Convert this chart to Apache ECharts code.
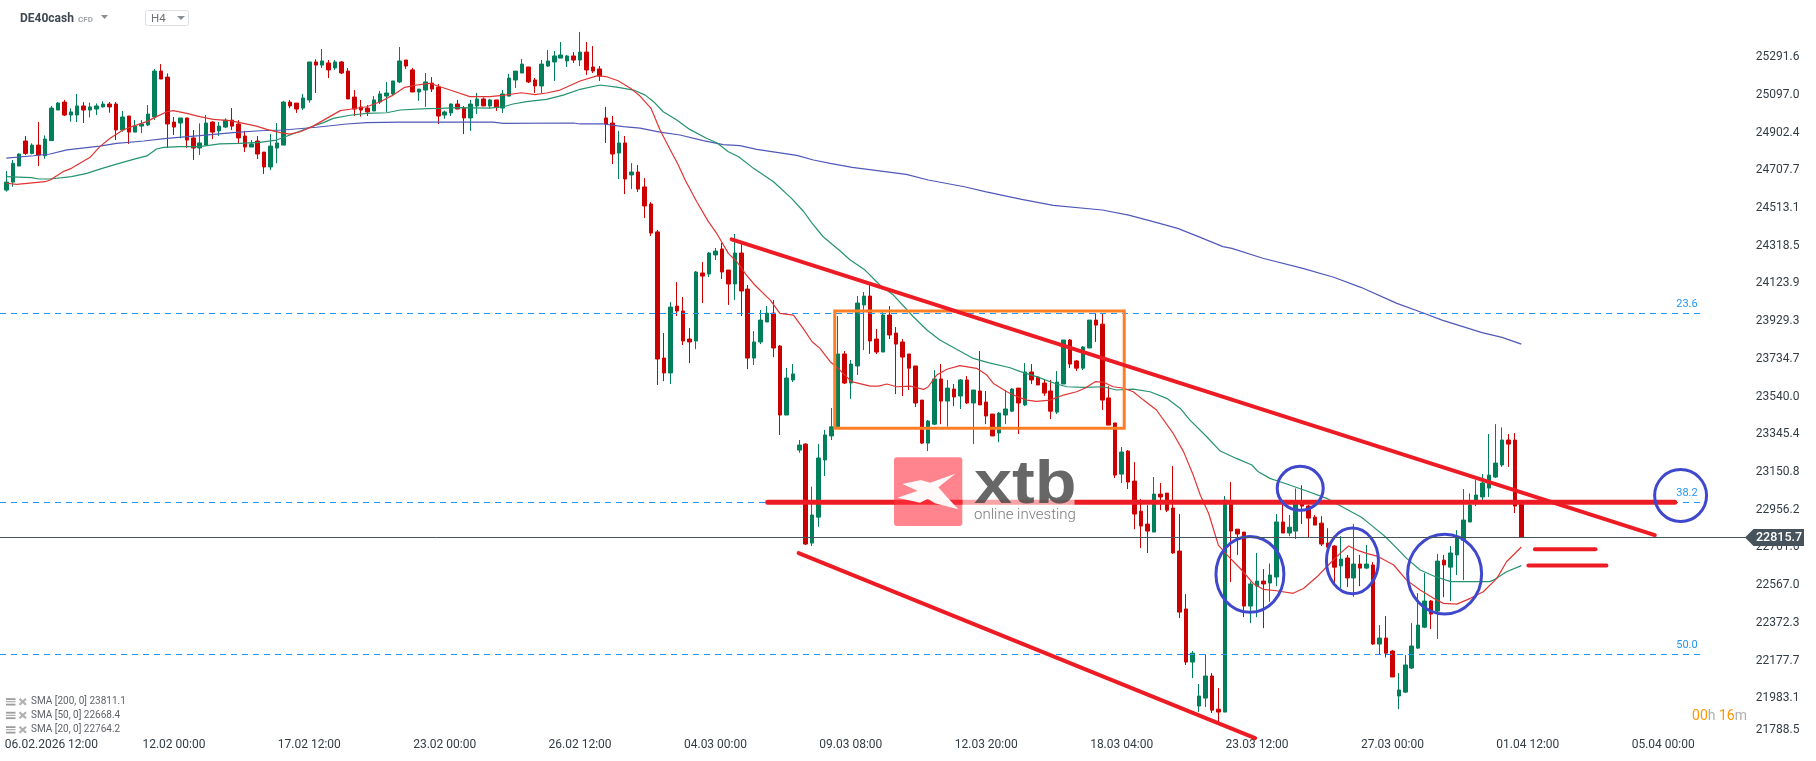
<!DOCTYPE html>
<html>
<head>
<meta charset="utf-8">
<style>html,body{margin:0;padding:0;background:#fff}#c{width:1816px;height:761px}</style>
<script src="https://cdn.jsdelivr.net/npm/echarts@6/dist/echarts.min.js"></script>
</head>
<body>
<div id="c"></div>
<script>
// [open, close, low, high] of each H4 candle
const candles = [
[24606,24647,24598,24704],[24647,24744,24623,24761],[24730,24792,24730,24795],[24859,24795,24787,24885],[24795,24838,24790,24847],
[24838,24787,24730,24957],[24783,24869,24768,24888],[24861,25029,24861,25040],[25019,25055,25019,25060],[25060,24993,24988,25071],
[24993,25009,24959,25028],[24993,25040,24957,25102],[25040,25019,24952,25060],[25019,25035,24981,25057],[25024,25040,24993,25053],
[25035,25050,25031,25064],[25050,25035,25005,25060],[25050,24916,24864,25060],[24916,24983,24907,25014],[24988,24905,24844,24988],
[24905,24936,24905,24967],[24936,24947,24900,24967],[24942,24998,24936,25045],[24983,25220,24967,25231],[25220,25179,25179,25256],
[25189,24947,24823,25208],[24957,24931,24890,24983],[24952,24978,24873,24978],[24978,24864,24823,24978],[24875,24823,24761,24916],
[24823,24849,24787,24950],[24838,24952,24838,24993],[24957,24905,24869,24962],[24911,24936,24885,24957],[24931,24967,24926,24976],
[24967,24936,24916,25029],[24947,24875,24847,24967],[24885,24828,24802,24911],[24828,24844,24828,24864],[24859,24792,24766,24885],
[24802,24725,24689,24802],[24725,24833,24709,24895],[24823,24849,24744,24952],[24838,25060,24838,25066],[25060,25040,25028,25071],
[25055,25024,25004,25055],[25029,25081,25019,25102],[25071,25267,25057,25267],[25267,25251,25107,25281],[25251,25272,25236,25334],
[25262,25226,25184,25277],[25236,25267,25226,25277],[25267,25210,25205,25272],[25220,25076,25076,25236],[25086,25024,24988,25122],
[25035,25019,24985,25071],[25029,25009,24988,25045],[25014,25071,25014,25091],[25060,25102,25050,25117],[25091,25107,25009,25164],
[25102,25169,25096,25169],[25164,25272,25158,25344],[25277,25246,25231,25277],[25226,25112,25112,25236],[25112,25127,25066,25127],
[25122,25164,25035,25210],[25158,25127,25112,25189],[25138,24988,24947,25153],[24993,25009,24974,25016],[25004,25050,24988,25053],
[25050,25024,25024,25071],[25029,24978,24895,25040],[24978,25050,24911,25071],[25040,25076,24998,25107],[25076,25040,25040,25084],
[25040,25071,25028,25076],[25071,25033,25014,25071],[25029,25102,25004,25122],[25091,25184,25088,25205],[25174,25220,25133,25220],
[25210,25256,25210,25282],[25241,25164,25158,25241],[25174,25143,25107,25184],[25143,25256,25107,25277],[25246,25272,25241,25329],
[25267,25298,25169,25324],[25287,25303,25287,25370],[25272,25298,25241,25303],[25298,25277,25262,25318],[25277,25318,25246,25422],
[25318,25226,25200,25370],[25241,25220,25210,25349],[25231,25195,25169,25246],[24978,24947,24849,25035],[24952,24792,24740,24988],
[24797,24849,24663,24911],[24849,24663,24585,24885],[24684,24699,24611,24745],[24699,24611,24596,24735],[24622,24524,24462,24668],
[24534,24384,24369,24544],[24390,23734,23600,24400],[23739,23662,23620,23868],[23662,24002,23605,24028],[24007,23982,23956,24131],
[23982,23827,23806,24054],[23837,23822,23713,23894],[23827,24183,23785,24188],[24178,24162,24023,24235],[24173,24281,24157,24286],
[24271,24291,24245,24307],[24302,24183,24147,24333],[24193,24121,24013,24193],[24121,24281,24038,24379],[24281,24085,23956,24327],
[24095,23739,23682,24116],[23739,23822,23703,23878],[23822,23935,23811,23987],[23925,23971,23925,24007],[23971,23791,23744,24038],
[23801,23445,23342,23806],[23445,23636,23445,23688],[23626,23657,23615,23708],[23264,23290,23250,23316],[23295,22779,22774,23299],
[22784,22929,22769,23075],[22918,23223,22868,23295],[23213,23342,23130,23368],[23337,23384,23316,23481],[23385,23760,23385,23956],
[23760,23610,23605,23775],[23610,23708,23528,23729],[23698,24023,23651,24059],[24013,24059,23780,24080],[24059,23827,23760,24121],
[23837,23770,23760,23889],[23770,23961,23770,23976],[23961,23858,23837,24007],[23868,23811,23553,23899],[23822,23744,23543,23837],
[23760,23687,23574,23760],[23698,23507,23486,23698],[23522,23300,23295,23522],[23300,23414,23259,23419],[23398,23631,23393,23677],
[23631,23517,23398,23708],[23517,23584,23385,23626],[23579,23538,23491,23605],[23543,23626,23476,23631],[23626,23507,23502,23646],
[23507,23574,23295,23574],[23569,23497,23497,23775],[23512,23440,23398,23569],[23450,23337,23337,23450],[23352,23455,23305,23460],
[23445,23476,23398,23574],[23465,23579,23460,23584],[23584,23507,23347,23584],[23497,23667,23491,23713],[23667,23626,23605,23708],
[23641,23600,23600,23646],[23610,23558,23543,23626],[23569,23465,23424,23626],[23460,23615,23450,23672],[23605,23832,23605,23832],
[23832,23708,23687,23837],[23724,23687,23672,23729],[23687,23796,23677,23801],[23791,23935,23791,23935],[23935,23909,23822,23970],
[23914,23522,23471,23966],[23533,23393,23393,23594],[23404,23135,23120,23404],[23140,23254,23094,23280],[23259,23099,23063,23264],
[23104,22934,22856,23202],[22949,22872,22758,23011],[22882,22846,22733,22980],[22841,23037,22841,23125],[23037,23022,22954,23094],
[23042,22954,22944,23042],[22965,22733,22728,23182],[22743,22428,22397,22934],[22444,22170,22155,22521],[22170,22216,22087,22227],
[21943,21995,21912,22057],[21984,22098,21938,22210],[22098,21922,21907,22113],[21927,21912,21860,22036],[21912,23006,21912,23027],
[22985,22846,22583,23099],[22856,22831,22723,22856],[22841,22459,22402,22841],[22459,22573,22371,22586],[22562,22588,22402,22733],
[22588,22573,22345,22650],[22578,22619,22481,22679],[22609,22893,22562,22934],[22893,22836,22836,22988],[22836,22866,22820,22929],
[22846,22989,22805,23066],[22989,22975,22882,23083],[22975,22913,22815,22980],[22918,22877,22877,22929],[22887,22779,22769,22923],
[22784,22763,22763,22861],[22769,22660,22573,22774],[22666,22702,22552,22820],[22707,22604,22557,22723],[22604,22676,22507,22882],
[22676,22655,22562,22723],[22655,22676,22650,22774],[22671,22263,22258,22686],[22263,22294,22210,22361],[22294,22216,22194,22407],
[22227,22093,22093,22232],[21995,22026,21927,22113],[22015,22155,22010,22206],[22139,22253,22134,22371],[22242,22361,22237,22526],
[22350,22485,22345,22629],[22485,22418,22340,22490],[22433,22691,22289,22728],[22696,22671,22505,22723],[22660,22733,22485,22769],
[22723,22810,22619,22851],[22799,22903,22593,23063],[22893,22980,22893,23040],[22989,23032,22975,23109],[23022,23094,23000,23140],
[23068,23135,23022,23347],[23125,23197,23120,23398],[23187,23316,23177,23381],[23316,23295,23177,23347],[23316,22975,22939,23352],
[22985,22815.7,22815.7,22985]
];

// moving averages as [candle position, price]
const sma20 = [[0,24641],[1.6,24635],[6,24649],[6.8,24658],[8.8,24701],[10.1,24718],[13,24775],[14.5,24830],[16.1,24873],[18.1,24916],[19.7,24936],[21.8,24959],[23.3,24985],[24.9,25010],[25.9,25016],[28,25002],[30,24985],[32.1,24971],[34.7,24964],[36.8,24950],[38.8,24936],[40.4,24919],[42.5,24902],[44,24895],[45.6,24907],[47.6,24936],[49.7,24976],[51.8,25016],[53.3,25023],[55.9,25036],[58,25062],[60,25096],[61.8,25136],[63.7,25148],[65.7,25157],[67.3,25139],[69.3,25117],[71.9,25088],[75,25088],[77,25095],[79.9,25108],[82,25098],[83.8,25107],[85.9,25122],[89,25169],[91.6,25195],[93.1,25191],[94.9,25170],[97,25127],[98.3,25091],[100,25028],[101.4,24916],[103,24813],[104.1,24744],[105.3,24658],[107.1,24546],[108.9,24443],[110.2,24382],[112,24279],[113.3,24236],[114.8,24167],[116.1,24116],[118.5,24038],[120,23970],[122.1,23961],[123.4,23901],[125,23823],[126.2,23789],[127.8,23720],[129.3,23677],[131.1,23617],[134,23594],[135.3,23594],[136.6,23605],[138.1,23591],[140.2,23594],[142.3,23577],[143,23591],[144.3,23651],[145.9,23681],[147.9,23700],[150.5,23686],[152.1,23651],[153.1,23608],[155.2,23565],[156.2,23548],[158.3,23522],[159.8,23515],[161.9,23522],[164,23548],[166,23565],[167.3,23583],[168.9,23617],[170.2,23614],[171.7,23591],[173.3,23583],[174.8,23565],[176.4,23522],[178.4,23471],[181,23350],[182.6,23256],[184.1,23135],[185.2,23032],[186.5,22937],[188,22774],[189.6,22714],[191.4,22653],[193.4,22576],[195,22545],[197,22538],[199.6,22525],[201.2,22550],[203.3,22610],[204.8,22662],[206.9,22731],[208.2,22769],[209.5,22748],[211,22731],[212.6,22717],[215.2,22671],[217.2,22593],[219.3,22542],[221.4,22499],[222.9,22473],[225,22469],[227.1,22499],[229.1,22533],[231.2,22602],[232.7,22688],[235,22764]];
const sma50 = [[0,24675],[3.9,24670],[5,24663],[6.8,24663],[10.1,24675],[12.5,24692],[14.5,24714],[17.1,24740],[19.7,24764],[21.8,24782],[23.3,24818],[24.4,24826],[26.9,24830],[30,24830],[33.1,24844],[36.2,24847],[39.3,24852],[41.9,24864],[44,24890],[47.1,24930],[49.2,24954],[50.7,24976],[53.3,24992],[55.9,25002],[59,25005],[61.1,25019],[65.2,25026],[67.3,25028],[69.9,25031],[75,25029],[77.1,25036],[78.6,25050],[80.7,25062],[83.8,25074],[86.4,25096],[89,25126],[92.1,25148],[94.9,25136],[97.3,25122],[99.1,25096],[100.4,25062],[101.9,25010],[104,24967],[106,24919],[108.6,24873],[110.2,24850],[112,24804],[113.6,24778],[115.9,24718],[119,24649],[121.8,24563],[123.7,24494],[125,24434],[126.7,24365],[129.3,24293],[130.9,24245],[133.2,24193],[135.5,24116],[137.6,24064],[140.7,23952],[142.8,23884],[144.8,23832],[147.4,23784],[150,23737],[152.3,23715],[155.7,23689],[157.3,23669],[159.8,23643],[162.9,23605],[164.5,23591],[167.1,23588],[170.2,23591],[172.2,23574],[174.8,23579],[177.4,23565],[180,23531],[182.1,23479],[183.6,23419],[186.2,23333],[188.3,23259],[190.8,23221],[193.2,23187],[194.2,23152],[196,23118],[198.6,23089],[201.7,23053],[204.8,23015],[207.4,22968],[210.2,22917],[212,22869],[213.9,22817],[215.7,22757],[217.2,22705],[219.3,22645],[221.4,22614],[224,22585],[230.1,22585],[230.9,22597],[232.7,22636],[235,22668]];
const sma200 = [[0,24771],[4.2,24783],[6.8,24792],[9.4,24813],[14.5,24833],[17.1,24847],[21.3,24859],[24.9,24873],[30,24887],[35.2,24902],[39.3,24912],[43,24916],[48.1,24930],[52.8,24947],[55.9,24954],[61.1,24957],[67.3,24957],[75.5,24957],[77.1,24950],[88,24952],[89,24947],[92.6,24947],[95.7,24933],[98.3,24926],[101.4,24905],[104.5,24890],[108.1,24861],[111.2,24840],[113.8,24835],[116.4,24816],[122.6,24785],[125.2,24761],[127.8,24744],[131.2,24723],[139.6,24687],[143,24658],[148.6,24623],[152,24597],[157.5,24558],[162.4,24527],[170,24503],[174.1,24477],[177.6,24446],[181.7,24408],[185.2,24362],[188.7,24314],[190.1,24305],[194.9,24254],[201.1,24202],[205.9,24156],[210.1,24104],[215.7,24021],[219.9,23970],[222.7,23935],[228.9,23870],[232,23846],[235,23811]];

// y axis tick labels and last price
const priceTicks = [21788.5,21983.1,22177.7,22372.3,22567.0,22761.6,22956.2,23150.8,23345.4,23540.0,23734.7,23929.3,24123.9,24318.5,24513.1,24707.7,24902.4,25097.0,25291.6];
const lastPrice = 22815.7;

// time axis labels by candle position
const timeTicks = [[7,'06.02.2026 12:00'],[26,'12.02 00:00'],[47,'17.02 12:00'],[68,'23.02 00:00'],[89,'26.02 12:00'],[110,'04.03 00:00'],[131,'09.03 08:00'],[152,'12.03 20:00'],[173,'18.03 04:00'],[194,'23.03 12:00'],[215,'27.03 00:00'],[236,'01.04 12:00'],[257,'05.04 00:00']];

// fibonacci levels: [label, price]
const fibLevels = [['23.6',23969.8],['38.2',22995],['50.0',22209.7]];
const fibEnd = 262.7;

// drawn annotations in chart units: [from position, from price, to position, to price]
const channelLines = [[112.5,24351.7,255.7,22825.5],[122.9,22732.6,193.7,21777.8]];
const supportLines = [[118.1,22995,258.8,22995]];
const targetLines = [[237.1,22751.7,246.5,22751.7],[236.1,22669,248.2,22669]];
// [position, price, half width in candles, half height in price]
const circles = [[192.9,22622.7,5.27,196],[200.7,23066.5,3.57,113.5],[208.8,22692.4,4.03,170],[223.1,22624.2,5.74,206],[259.7,23029.4,4.03,134]];
// [from position, top price, to position, bottom price]
const boxes = [[128.5,23981.6,173.4,23376.3]];

const smaLegend = ['SMA [200, 0] 23811.1','SMA [50, 0] 22668.4','SMA [20, 0] 22764.2'];

const BANDS = 270;
const BAND_PX = 6.447;
const categories = Array.from({length:BANDS},()=> '');
timeTicks.forEach(([i,t])=>{categories[i]=t;});

const FONT = 'Roboto, sans-serif';
const RED='#cc0000', GREEN='#007f5a';

function segmentSeries(name,rows,color,width){
  return {type:'custom',name,xAxisIndex:1,yAxisIndex:0,z:6,silent:true,clip:false,
    data:rows,
    encode:{x:[0,2],y:[1,3]},
    renderItem(p,api){
      const a=api.coord([api.value(0),api.value(1)]), b=api.coord([api.value(2),api.value(3)]);
      return {type:'line',shape:{x1:a[0],y1:a[1],x2:b[0],y2:b[1]},style:{stroke:color,lineWidth:width,lineCap:'round'}};
    }};
}
function smaSeries(name,rows,color){
  return {type:'line',name,xAxisIndex:1,yAxisIndex:0,data:rows,symbol:'none',smooth:false,z:5,silent:true,
    lineStyle:{color,width:1.2},clip:false};
}

function legendRow(text,cy){
  const bars=[-3.5,-0.5,2].map(dy=>({type:'rect',shape:{x:6,y:cy+dy,width:9.5,height:dy<0&&dy>-1?1:1.8},style:{fill:'#9c9c9c'}}));
  return bars.concat([
    {type:'line',shape:{x1:19.5,y1:cy-3,x2:26,y2:cy+3},style:{stroke:'#b0b0b0',lineWidth:2.2}},
    {type:'line',shape:{x1:26,y1:cy-3,x2:19.5,y2:cy+3},style:{stroke:'#b0b0b0',lineWidth:2.2}},
    {type:'text',x:31,y:cy,style:{text,fill:'#5f6368',font:'10px '+FONT,verticalAlign:'middle',align:'left'}}
  ]);
}

const logoStar=[[52,102],[108,90],[135,98],[211,71],[160,112],[185,140],[220,178],[150,160],[128,146],[105,158],[38,143],[98,122]].map(([x,y])=>[885+x/3,450+y/3]);

const option={
  animation:false,
  backgroundColor:'#ffffff',
  textStyle:{fontFamily:FONT},
  grid:{left:3.08,top:0,width:BANDS*BAND_PX,height:736,containLabel:false},
  xAxis:[
    {type:'category',data:categories,boundaryGap:true,axisLine:{show:false},axisTick:{show:false},splitLine:{show:false},
     axisLabel:{interval:0,color:'#333d45',fontSize:12,fontFamily:FONT,margin:3,showMinLabel:true,showMaxLabel:true,hideOverlap:false}},
    {type:'value',min:-0.5,max:BANDS-0.5,show:false,splitLine:{show:false}}
  ],
  yAxis:[{type:'value',position:'right',min:21788.5,max:25586.8,scale:true,
    axisLine:{show:false},axisTick:{show:false},splitLine:{show:false},
    axisLabel:{customValues:priceTicks,formatter:v=>Number(v).toFixed(1),color:'#333d45',fontSize:12,fontFamily:FONT,margin:12,align:'left',verticalAlignMinLabel:'bottom',padding:[2,0,0,0]}}],
  series:[
    {type:'candlestick',name:'DE40cash',xAxisIndex:0,yAxisIndex:0,z:3,silent:true,barWidth:4,data:candles,
     itemStyle:{color:GREEN,color0:RED,borderColor:GREEN,borderColor0:RED,borderWidth:1}},
    smaSeries('SMA 200',sma200,'#5058b8'),
    smaSeries('SMA 50',sma50,'#24936f'),
    smaSeries('SMA 20',sma20,'#e23434'),
    {type:'custom',name:'Fibonacci',xAxisIndex:1,yAxisIndex:0,z:4,silent:true,clip:false,data:fibLevels.map(r=>[r[1]]),
     encode:{y:0},
     renderItem(p,api){
       const y=Math.round(api.coord([0,api.value(0)])[1])+0.5;
       const x2=api.coord([fibEnd,0])[0];
       return {type:'group',children:[
         {type:'line',shape:{x1:0,y1:y,x2,y2:y},style:{stroke:'#2196f3',lineWidth:1,lineDash:[6,5]}},
         {type:'text',x:x2-13,y:y-9.5,style:{text:fibLevels[p.dataIndex][0],fill:'#2196f3',font:'11px '+FONT,align:'center',verticalAlign:'middle'}}
       ]};
     }},
    {type:'custom',name:'Range',xAxisIndex:1,yAxisIndex:0,z:6,silent:true,clip:false,data:boxes,encode:{x:[0,2],y:[1,3]},
     renderItem(p,api){
       const a=api.coord([api.value(0),api.value(1)]), b=api.coord([api.value(2),api.value(3)]);
       return {type:'rect',shape:{x:a[0],y:a[1],width:b[0]-a[0],height:b[1]-a[1]},style:{fill:'none',stroke:'#ff7f27',lineWidth:3}};
     }},
    segmentSeries('Channel',channelLines,'#ed1c24',4),
    segmentSeries('Support',supportLines,'#ed1c24',5),
    segmentSeries('Targets',targetLines,'#ed1c24',4),
    {type:'custom',name:'Marks',xAxisIndex:1,yAxisIndex:0,z:7,silent:true,clip:false,data:circles,encode:{x:0,y:1},
     renderItem(p,api){
       const c=api.coord([api.value(0),api.value(1)]);
       const e=api.coord([api.value(0)+api.value(2),api.value(1)-api.value(3)]);
       return {type:'ellipse',shape:{cx:c[0],cy:c[1],rx:e[0]-c[0],ry:e[1]-c[1]},style:{fill:'none',stroke:'#3f48cc',lineWidth:3}};
     }},
    {type:'custom',name:'Last price',xAxisIndex:1,yAxisIndex:0,z:20,silent:true,clip:false,data:[[lastPrice]],encode:{y:0},
     renderItem(p,api){
       const y=Math.round(api.coord([0,api.value(0)])[1])+0.5;
       return {type:'group',children:[
         {type:'line',z2:1,shape:{x1:0,y1:y,x2:1746,y2:y},style:{stroke:'#46535c',lineWidth:1}},
         {type:'polygon',z2:2,shape:{points:[[1745,y],[1753.5,y-8.5],[1804,y-8.5],[1804,y+8.5],[1753.5,y+8.5]]},style:{fill:'#46535c'}},
         {type:'text',z2:3,x:1756,y:y+0.5,style:{text:lastPrice.toFixed(1),fill:'#ffffff',font:'500 12.5px '+FONT,align:'left',verticalAlign:'middle'}}
       ]};
     }}
  ],
  graphic:{elements:[
    // instrument header
    {type:'text',x:20,y:18.5,z:30,style:{text:'DE40cash',fill:'#3d4852',font:'bold 12px '+FONT,align:'left',verticalAlign:'middle'}},
    {type:'text',x:78,y:19.5,z:30,style:{text:'CFD',fill:'#a0a4a8',font:'bold 8px '+FONT,align:'left',verticalAlign:'middle'}},
    {type:'polygon',z:30,shape:{points:[[101,15],[108,15],[104.5,19]]},style:{fill:'#8a8f94'}},
    {type:'rect',z:30,shape:{x:145.5,y:10.5,width:43,height:15,r:2},style:{fill:'#fff',stroke:'#dcdfe2',lineWidth:1}},
    {type:'text',x:151,y:19.5,z:31,style:{text:'H4',fill:'#6c7177',font:'11.5px '+FONT,align:'left',verticalAlign:'middle'}},
    {type:'polygon',z:31,shape:{points:[[177,16],[185,16],[181,20]]},style:{fill:'#8a8f94'}},
    // countdown
    {type:'text',x:1747,y:716,z:30,style:{text:'{a|00}{b|h} {a|16}{b|m}',align:'right',verticalAlign:'middle',font:'14px '+FONT,rich:{a:{fill:'#ff9800',font:'14px '+FONT},b:{fill:'#b0b0b0',font:'14px '+FONT}}}},
    // xtb watermark
    {type:'rect',z:40,shape:{x:962.5,y:457,width:112,height:69},style:{fill:'rgba(255,255,255,0.6)'}},
    {type:'rect',z:41,shape:{x:894,y:457.3,width:68.3,height:68.7,r:3},style:{fill:'rgba(255,50,65,0.6)'}},
    {type:'polygon',z:42,shape:{points:logoStar},style:{fill:'rgba(255,255,255,0.95)'}},
    {type:'text',x:974,y:486.5,z:42,scaleX:1.12,style:{text:'xtb',fill:'rgba(70,70,70,0.82)',font:'bold 61px "Liberation Sans", sans-serif',align:'left',verticalAlign:'middle'}},
    {type:'text',x:974,y:515,z:42,style:{text:'online investing',fill:'#7a7a7a',font:'300 15px '+FONT,align:'left',verticalAlign:'middle'}}
  ].concat(
    legendRow(smaLegend[0],701.7),legendRow(smaLegend[1],715.3),legendRow(smaLegend[2],729.7)
  ).map(e=>Object.assign({z:30},e))}
};
const chart=echarts.init(document.getElementById('c'),null,{renderer:'canvas',width:1816,height:761});
chart.setOption(option);
</script>
</body>
</html>
